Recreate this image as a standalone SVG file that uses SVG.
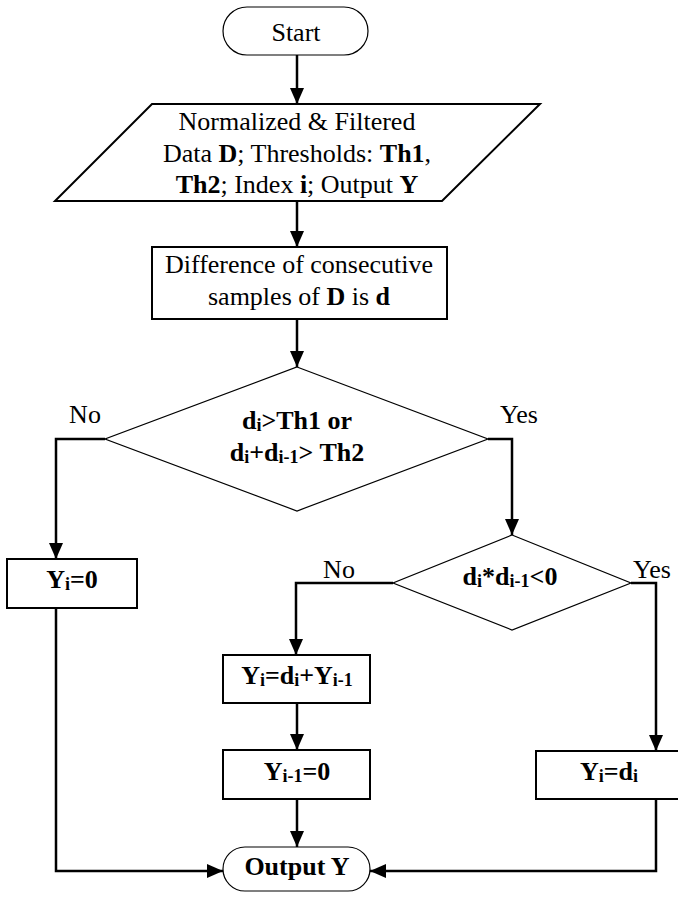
<svg xmlns="http://www.w3.org/2000/svg" width="678" height="899" viewBox="0 0 678 899">
<style>
text{font-family:"Liberation Serif","Times New Roman",serif;font-size:26px;fill:#000;text-anchor:middle}
.b{font-weight:bold}
.thin{fill:#fff;stroke:#000;stroke-width:1.2}
.box{fill:#fff;stroke:#000;stroke-width:2}
.con{fill:none;stroke:#000;stroke-width:2.5}
.s{font-size:18px}
</style>
<defs>
<marker id="ah" markerUnits="userSpaceOnUse" markerWidth="16" markerHeight="14" refX="16" refY="7" orient="auto">
<path d="M0,0 L16,7 L0,14 Z" fill="#000"/>
</marker>
</defs>
<rect width="678" height="899" fill="#fff"/>
<g id="connectors">
<line class="con" x1="297" y1="55" x2="297" y2="104" marker-end="url(#ah)"/>
<line class="con" x1="297" y1="201" x2="297" y2="247" marker-end="url(#ah)"/>
<line class="con" x1="297" y1="319" x2="297" y2="367" marker-end="url(#ah)"/>
<polyline class="con" points="105,439 56,439 56,559" marker-end="url(#ah)"/>
<polyline class="con" points="488,439 512,439 512,535" marker-end="url(#ah)"/>
<polyline class="con" points="393,583 296,583 296,655" marker-end="url(#ah)"/>
<polyline class="con" points="631,583 656,583 656,751" marker-end="url(#ah)"/>
<line class="con" x1="297" y1="703" x2="297" y2="750" marker-end="url(#ah)"/>
<line class="con" x1="297" y1="799" x2="297" y2="847" marker-end="url(#ah)"/>
<polyline class="con" points="56,608 56,871 223,871" marker-end="url(#ah)"/>
<polyline class="con" points="656,799 656,871 370,871" marker-end="url(#ah)"/>
<text x="85" y="423">No</text>
<text x="519" y="423">Yes</text>
<text x="339" y="578">No</text>
<text x="652" y="578">Yes</text>
</g>
<g id="start">
<rect class="thin" x="223" y="7" width="145" height="48" rx="24"/>
<text x="296" y="41">Start</text>
</g>
<g id="input">
<polygon class="box" points="152,104 540,104 442,201 55,201"/>
<text x="297" y="130">Normalized &amp; Filtered</text>
<text x="297" y="162">Data <tspan class="b">D</tspan>; Thresholds: <tspan class="b">Th1</tspan>,</text>
<text x="297" y="193"><tspan class="b">Th2</tspan>; Index <tspan class="b">i</tspan>; Output <tspan class="b">Y</tspan></text>
</g>
<g id="diff">
<rect class="box" x="152" y="247" width="295" height="72"/>
<text x="299" y="273">Difference of consecutive</text>
<text x="299" y="305">samples of <tspan class="b">D</tspan> is <tspan class="b">d</tspan></text>
</g>
<g id="dec1">
<polygon class="thin" points="297,367 488,439 297,511 105,439"/>
<text class="b" x="297" y="429">d<tspan class="s" dy="2">i</tspan><tspan dy="-2">&gt;Th1 or</tspan></text>
<text class="b" x="297" y="461">d<tspan class="s" dy="2">i</tspan><tspan dy="-2">+d</tspan><tspan class="s" dy="2">i-1</tspan><tspan dy="-2">&gt; Th2</tspan></text>
</g>
<g id="yi0">
<rect class="box" x="7" y="559" width="130" height="49"/>
<text class="b" x="72" y="588">Y<tspan class="s" dy="2">i</tspan><tspan dy="-2">=0</tspan></text>
</g>
<g id="dec2">
<polygon class="thin" points="512,535 631,583 512,630 393,583"/>
<text class="b" x="510" y="585">d<tspan class="s" dy="2">i</tspan><tspan dy="-2">*d</tspan><tspan class="s" dy="2">i-1</tspan><tspan dy="-2">&lt;0</tspan></text>
</g>
<g id="yisum">
<rect class="box" x="223" y="655" width="147" height="48"/>
<text class="b" x="297" y="684">Y<tspan class="s" dy="2">i</tspan><tspan dy="-2">=d</tspan><tspan class="s" dy="2">i</tspan><tspan dy="-2">+Y</tspan><tspan class="s" dy="2">i-1</tspan></text>
</g>
<g id="yim1">
<rect class="box" x="223" y="750" width="147" height="49"/>
<text class="b" x="297" y="780">Y<tspan class="s" dy="2">i-1</tspan><tspan dy="-2">=0</tspan></text>
</g>
<g id="yidi">
<rect class="box" x="536" y="751" width="150" height="48"/>
<text class="b" x="609" y="780">Y<tspan class="s" dy="2">i</tspan><tspan dy="-2">=d</tspan><tspan class="s" dy="2">i</tspan></text>
</g>
<g id="output">
<rect class="thin" x="223" y="847" width="147" height="44" rx="22"/>
<text class="b" x="297" y="875">Output Y</text>
</g>
</svg>
